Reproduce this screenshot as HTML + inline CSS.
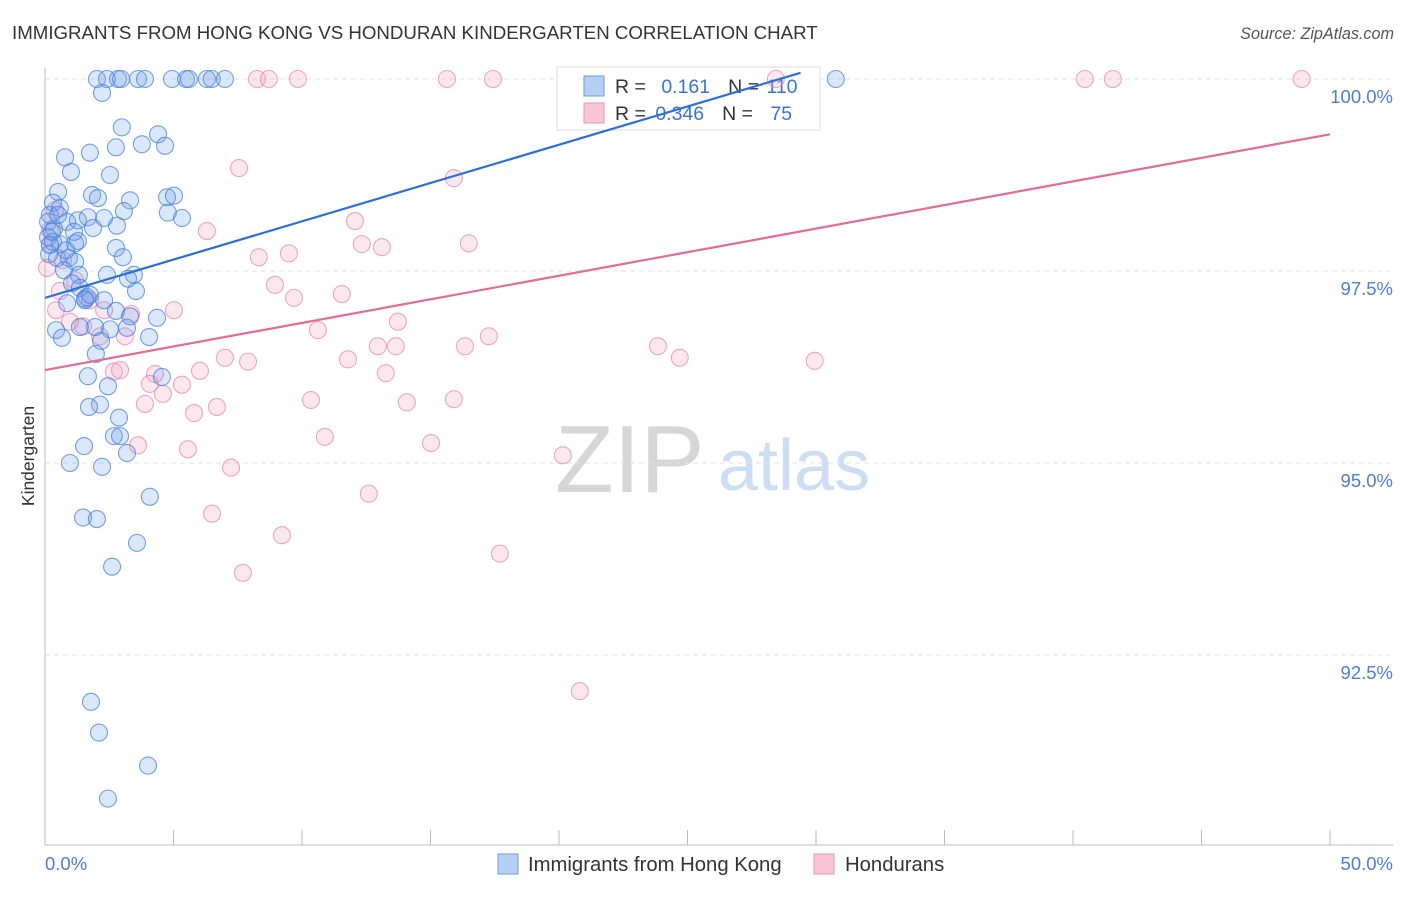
<!DOCTYPE html>
<html><head><meta charset="utf-8"><style>
body{margin:0;background:#fff;font-family:"Liberation Sans",sans-serif;}
svg text{font-family:"Liberation Sans",sans-serif;}
</style></head><body>
<svg id="chart" width="1406" height="892">
<text x="12" y="39" font-size="18.7" fill="#333">IMMIGRANTS FROM HONG KONG VS HONDURAN KINDERGARTEN CORRELATION CHART</text>
<text x="1394" y="39" font-size="16.2" fill="#555" font-style="italic" text-anchor="end">Source: ZipAtlas.com</text>
<g>
<text x="555" y="492" font-size="96" fill="#ccc" font-family="Liberation Serif,serif" opacity="0.8">ZIP</text>
<text x="718" y="490" font-size="72" fill="#b8cff0" opacity="0.7">atlas</text>
</g>
<g id="grid"></g><g id="axes"></g>
<g>
<rect x="557" y="67" width="263" height="63" fill="#fff" stroke="#ddd"/>
<rect x="584" y="76" width="20" height="20" fill="#b5cff5" stroke="#6a9be0"/>
<rect x="584" y="103" width="20" height="20" fill="#f9c4d6" stroke="#e996b4"/>
<text x="615" y="93" font-size="19.5" fill="#333">R = <tspan fill="#3a73d6" dx="10">0.161</tspan><tspan dx="18" fill="#333">N = </tspan><tspan fill="#3a73d6" dx="2">110</tspan></text>
<text x="615" y="120" font-size="19.5" fill="#333">R = <tspan fill="#3a73d6" dx="4">0.346</tspan><tspan dx="18" fill="#333">N = </tspan><tspan fill="#3a73d6" dx="12">75</tspan></text>
</g>
<g id="marks"></g>
<text transform="translate(34,456) rotate(-90)" font-size="17.5" fill="#333" text-anchor="middle">Kindergarten</text>
<g>
<rect x="498" y="854" width="20" height="20" fill="#b5cff5" stroke="#6a9be0"/>
<text x="528" y="871" font-size="20.3" fill="#333">Immigrants from Hong Kong</text>
<rect x="814" y="854" width="20" height="20" fill="#f9c4d6" stroke="#e996b4"/>
<text x="845" y="871" font-size="20.3" fill="#333">Hondurans</text>
</g>
</svg>
<script>
const blueX=[2.02,2.41,2.84,2.96,3.62,3.89,4.94,5.49,5.60,6.30,6.49,7.00,30.77,2.22,2.99,4.40,2.76,3.77,4.67,0.78,1.75,1.01,2.53,0.51,1.83,2.06,3.31,4.75,5.02,0.31,0.58,3.07,4.78,5.33,0.19,0.12,1.28,1.67,2.30,0.86,0.35,2.80,1.87,0.12,0.31,0.58,1.17,1.28,2.76,0.16,0.47,0.93,1.17,3.03,0.74,1.32,2.41,3.46,3.23,1.05,1.36,3.54,1.56,1.63,0.86,2.76,4.36,0.43,1.36,1.95,2.53,3.19,4.05,0.66,2.18,1.98,4.55,1.67,2.45,2.14,1.71,2.88,2.68,2.92,1.52,3.19,0.97,2.22,4.08,1.48,2.02,3.58,2.61,1.79,2.10,4.01,2.45,0.19,0.27,0.51,0.82,1.13,1.56,1.75,2.30,3.31];
const blueY=[100,100,100,100,100,100,100,100,100,100,100,100,100,99.82,99.37,99.28,99.11,99.15,99.13,98.98,99.04,98.79,98.75,98.53,98.49,98.45,98.42,98.46,98.48,98.39,98.32,98.28,98.26,98.19,98.23,98.14,98.16,98.20,98.19,98.14,98.05,98.09,98.06,97.94,97.88,97.85,97.86,97.89,97.80,97.72,97.67,97.67,97.62,97.68,97.51,97.45,97.45,97.45,97.40,97.34,97.28,97.24,97.14,97.16,97.08,96.98,96.89,96.73,96.77,96.77,96.74,96.76,96.64,96.63,96.59,96.42,96.12,96.13,96.00,95.76,95.73,95.59,95.35,95.35,95.22,95.13,95.00,94.95,94.56,94.29,94.27,93.96,93.65,91.89,91.49,91.06,90.63,97.84,98.01,98.23,97.77,98.01,97.12,97.19,97.12,96.91];
const pinkX=[8.25,8.71,9.84,15.64,17.43,28.44,40.46,41.55,48.90,7.55,15.91,12.06,6.30,16.49,12.33,13.11,8.32,9.49,8.95,9.69,11.55,0.58,0.43,2.30,5.02,3.35,13.73,10.62,17.27,3.11,1.48,0.97,12.95,13.65,16.34,23.85,24.70,29.95,7.00,7.90,11.79,2.68,4.28,6.03,13.26,4.08,5.33,3.89,4.59,6.69,5.80,10.35,14.08,15.91,10.89,15.02,3.62,5.56,20.15,7.24,12.60,6.50,9.22,17.70,7.70,20.81,0.19,0.39,0.70,2.14,2.92,1.17,0.08,0.19,1.75];
const pinkY=[100,100,100,100,100,100,100,100,100,98.84,98.71,98.15,98.02,97.86,97.85,97.81,97.68,97.73,97.32,97.15,97.20,97.24,96.99,96.99,96.99,96.94,96.84,96.73,96.65,96.65,96.78,96.84,96.52,96.52,96.52,96.52,96.37,96.33,96.37,96.32,96.35,96.19,96.16,96.20,96.17,96.03,96.02,95.77,95.90,95.73,95.65,95.82,95.79,95.83,95.34,95.26,95.23,95.18,95.10,94.94,94.60,94.34,94.06,93.82,93.57,92.03,97.84,98.29,97.64,96.65,96.21,97.38,97.54,98.03,97.12];
const blueTrend=[97.15,0.0997,0,29.4]; // intercept, slope, xmin, xmax
const pinkTrend=[96.21,0.0614,0,50];
const yTicks=[100,97.5,95,92.5];
const yTickLabels=["100.0%","97.5%","95.0%","92.5%"];
const xTicks=[0,5,10,15,20,25,30,35,40,45,50];
const xLabels=[[0,"0.0%"],[50,"50.0%"]];

const NS="http://www.w3.org/2000/svg";
const X=v=>45+v*25.7;
const Y=v=>79+(100-v)*76.8;
function mk(p,tag,a){const e=document.createElementNS(NS,tag);for(const k in a)e.setAttribute(k,a[k]);p.appendChild(e);return e;}
const grid=document.getElementById('grid'),axes=document.getElementById('axes'),marks=document.getElementById('marks');
yTicks.forEach((t,i)=>{
  const l=mk(grid,'line',{x1:45,x2:1393,y1:Y(t),y2:Y(t),stroke:'#e2e2e2','stroke-dasharray':'5,4'});
  
  
  const tx=mk(axes,'text',{x:1393,y:Y(t)+24,'font-size':18.5,fill:'#4a7fd6','text-anchor':'end'});
  tx.textContent=yTickLabels[i];
  
  
});
const ax=mk(axes,'line',{x1:45,x2:1393,y1:845,y2:845,stroke:'#bbb'});


const ay=mk(axes,'line',{x1:45,x2:45,y1:68,y2:845,stroke:'#bbb'});


xTicks.forEach(t=>{
  const l=mk(axes,'line',{x1:X(t),x2:X(t),y1:830,y2:845,stroke:'#bbb'});
  
  
});
xLabels.forEach(([v,s])=>{
  const tx=mk(axes,'text',{x:v===0?X(v):1393,y:870,'font-size':18.5,fill:'#4a7fd6','text-anchor':v===0?'start':'end'});
  tx.textContent=s;
  
  
});
function pts(xs,ys,fill,stroke,name){
  xs.forEach((x,i)=>{
    const c=mk(marks,'circle',{cx:X(x),cy:Y(ys[i]),r:8.5,fill:fill,stroke:stroke,'stroke-width':1.1});
    
    
  });
}
pts(pinkX,pinkY,'rgba(244,160,190,0.25)','rgba(230,130,170,0.7)','point-hondurans');
pts(blueX,blueY,'rgba(110,160,235,0.25)','rgba(70,130,220,0.75)','point-hongkong');
function trend(t,col,name){
  const [b,m,a,z]=t;
  const l=mk(marks,'line',{x1:X(a),y1:Y(b+m*a),x2:X(z),y2:Y(b+m*z),stroke:col,'stroke-width':2.2});
  
  
}
trend(blueTrend,'#2a6fd8','trendline-hongkong');
trend(pinkTrend,'#e66a96','trendline-hondurans');
</script>
</body></html>
